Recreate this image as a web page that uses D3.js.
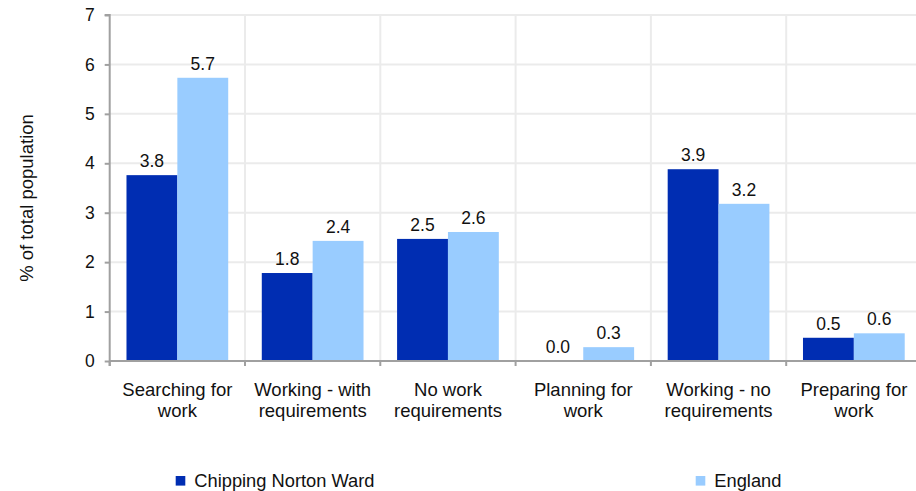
<!DOCTYPE html>
<html><head><meta charset="utf-8">
<script src="https://cdn.jsdelivr.net/npm/d3@7/dist/d3.min.js"></script>
<style>
html,body{margin:0;padding:0;background:#fff;}
svg{display:block;font-family:"Liberation Sans",Arial,sans-serif;}
</style></head>
<body>
<svg id="c" width="916" height="491"></svg>
<script>
const categories = [["Searching for","work"],["Working - with","requirements"],["No work","requirements"],["Planning for","work"],["Working - no","requirements"],["Preparing for","work"]];
const seriesNames = ["Chipping Norton Ward","England"];
const chipping = [3.76, 1.78, 2.47, 0.0, 3.88, 0.47];
const england = [5.73, 2.43, 2.61, 0.28, 3.18, 0.56];
const yTicks = [0,1,2,3,4,5,6,7];
const colors = ["#002db2","#99ccff"];

(function(){
const svg = d3.select("#c");
const pLeft = 109.7, catW = 135.3, pTop = 15, pBottom = 361;
const x0 = d3.scaleBand().domain(d3.range(categories.length)).range([pLeft, pLeft + catW*categories.length]).padding(0);
const x1 = d3.scaleBand().domain([0,1]).range([0, x0.bandwidth()]).paddingOuter(0.33).paddingInner(0);
const y = d3.scaleLinear().domain([0,7]).range([pBottom, pTop]);
const pRight = x0.range()[1];

// horizontal grid
svg.append("g").selectAll("line").data(yTicks.slice(1)).join("line")
  .attr("x1", pLeft).attr("x2", pRight).attr("y1", d=>y(d)).attr("y2", d=>y(d))
  .attr("stroke","#ebebeb").attr("stroke-width",2);
// vertical grid
svg.append("g").selectAll("line").data(d3.range(1, categories.length+1)).join("line")
  .attr("x1", d=>pLeft+d*catW).attr("x2", d=>pLeft+d*catW).attr("y1", pTop).attr("y2", pBottom)
  .attr("stroke","#ebebeb").attr("stroke-width",2);

// bars
const data = categories.map((c,i)=>[chipping[i], england[i]]);
const g = svg.append("g").selectAll("g").data(data).join("g")
  .attr("transform",(d,i)=>`translate(${x0(i)},0)`);
g.selectAll("rect").data(d=>d).join("rect")
  .attr("x",(d,j)=>x1(j)).attr("width",x1.bandwidth())
  .attr("y",d=>y(d)).attr("height",d=>y(0)-y(d))
  .attr("fill",(d,j)=>colors[j]);
g.selectAll("text").data(d=>d).join("text")
  .attr("x",(d,j)=>x1(j)+x1.bandwidth()/2).attr("y",d=>y(d)-8)
  .attr("text-anchor","middle").attr("font-size","17.5px").attr("fill","#111")
  .text(d=>d.toFixed(1));

// y axis
const yAxis = d3.axisLeft(y).tickValues(yTicks).tickSize(5).tickPadding(10).tickFormat(d3.format("d"));
const ya = svg.append("g").attr("transform",`translate(${pLeft},0)`).call(yAxis);
ya.select(".domain").attr("stroke","#a0a0a0").attr("stroke-width",2).attr("d",`M-5,${pTop}H0V${pBottom+5}`);
ya.selectAll(".tick line").attr("stroke","#a0a0a0").attr("stroke-width",2);
ya.selectAll(".tick text").attr("font-size","17.5px").attr("fill","#111").attr("font-family","Liberation Sans, Arial, sans-serif");

// x axis
const xa = svg.append("g");
xa.append("line").attr("x1",pLeft).attr("x2",pRight).attr("y1",pBottom).attr("y2",pBottom)
  .attr("stroke","#a0a0a0").attr("stroke-width",2);
xa.selectAll("line.t").data(d3.range(0, categories.length+1)).join("line").attr("class","t")
  .attr("x1",d=>pLeft+d*catW).attr("x2",d=>pLeft+d*catW).attr("y1",pBottom).attr("y2",pBottom+5)
  .attr("stroke","#a0a0a0").attr("stroke-width",2);
const ct = xa.selectAll("text").data(categories).join("text")
  .attr("text-anchor","middle").attr("font-size","18.5px").attr("fill","#111")
  .attr("transform",(d,i)=>`translate(${x0(i)+catW/2},0)`);
ct.selectAll("tspan").data(d=>d).join("tspan")
  .attr("x",0).attr("y",(d,k)=>396+k*20.5).text(d=>d);

// y title
svg.append("text").attr("transform","translate(33,198) rotate(-90)")
  .attr("text-anchor","middle").attr("font-size","18.5px").attr("fill","#111")
  .text("% of total population");

// legend
const legX = [175.7, 695.7];
const lg = svg.append("g").selectAll("g").data(seriesNames).join("g")
  .attr("transform",(d,i)=>`translate(${legX[i]},476)`);
lg.append("rect").attr("width",9.6).attr("height",9.6).attr("fill",(d,i)=>colors[i]);
lg.append("text").attr("x",18.6).attr("y",10.7).attr("font-size","18.3px").attr("fill","#111")
  .text(d=>d);
})();
</script>
</body></html>
